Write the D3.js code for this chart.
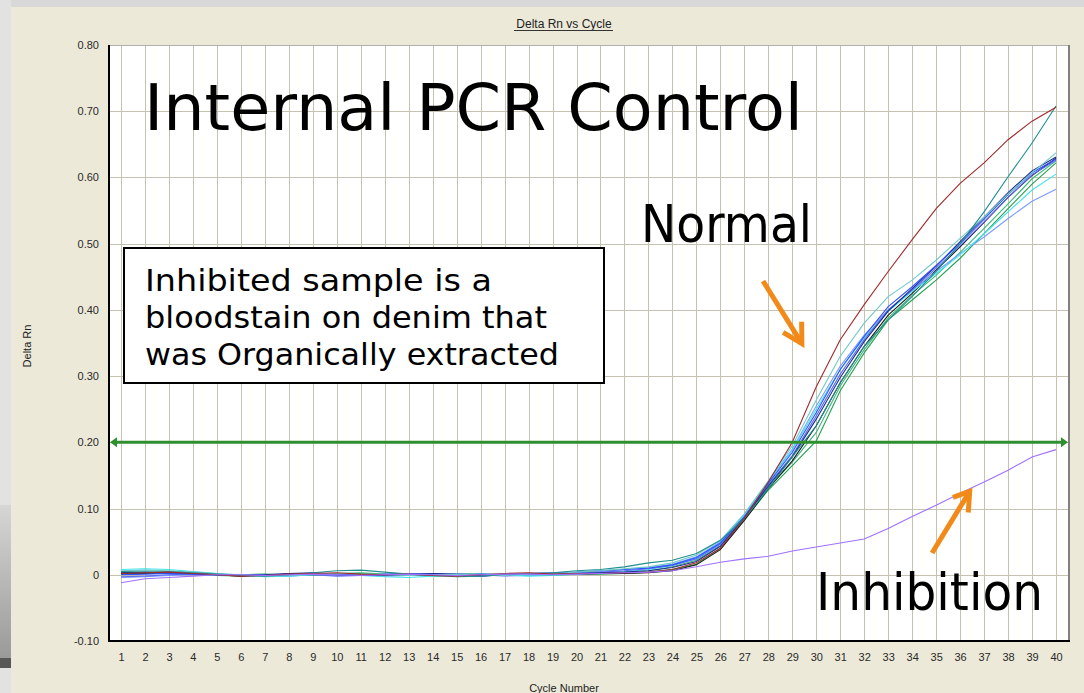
<!DOCTYPE html>
<html><head><meta charset="utf-8">
<script src="https://cdn.jsdelivr.net/npm/d3@7"></script>
<style>html,body{margin:0;padding:0;overflow:hidden;background:#ece9d8}</style>
</head><body>
<svg id="c" width="1084" height="693"></svg>
<script>
// ---------- DATA ----------
const cycles = d3.range(1, 41);
const yTickValues = [-0.1, 0, 0.1, 0.2, 0.3, 0.4, 0.5, 0.6, 0.7, 0.8];
const yTickLabels = ["-0.10", "0", "0.10", "0.20", "0.30", "0.40", "0.50", "0.60", "0.70", "0.80"];
const threshold = 0.2;

const redCurve = [0.002,0.003,0.004,0.002,0.000,-0.002,-0.001,0.001,0.002,0.003,0.001,0.000,0.001,-0.001,-0.002,0.000,0.002,0.003,0.001,0.002,0.002,
  0.003,0.004,0.008,0.018,0.040,0.085,0.140,0.200,0.284,0.355,0.408,0.458,0.506,0.553,0.591,0.622,0.657,0.685,0.706];
const darkTealCurve = [0.005,0.004,0.005,0.003,0.001,-0.001,-0.002,0.000,0.003,0.006,0.007,0.004,0.001,-0.001,-0.003,-0.002,0.001,0.002,0.003,0.006,0.008,
  0.012,0.018,0.022,0.032,0.052,0.085,0.130,0.178,0.225,0.290,0.345,0.385,0.420,0.458,0.500,0.548,0.601,0.652,0.708];
const lightTealCurve = [0.006,0.007,0.006,0.004,0.002,0.000,-0.002,-0.001,0.001,0.002,0.001,0.000,-0.001,0.000,0.001,0.000,-0.001,0.001,0.002,0.004,0.006,
  0.009,0.012,0.018,0.030,0.052,0.092,0.142,0.195,0.264,0.330,0.380,0.420,0.445,0.475,0.508,0.540,0.575,0.607,0.637];
const cyanCurve = [0.008,0.009,0.008,0.005,0.002,-0.001,-0.003,-0.002,0.000,0.001,-0.001,-0.003,-0.004,-0.002,0.000,0.001,0.000,-0.002,-0.001,0.001,0.003,
  0.005,0.008,0.014,0.025,0.048,0.090,0.140,0.188,0.250,0.310,0.358,0.398,0.428,0.455,0.483,0.515,0.548,0.581,0.605];
const blueCurve = [0.000,0.001,0.002,0.001,0.000,0.000,-0.001,0.000,0.001,0.000,-0.001,0.001,0.002,0.000,-0.001,0.001,0.000,0.002,0.003,0.004,0.006,
  0.008,0.010,0.015,0.026,0.048,0.088,0.138,0.185,0.245,0.310,0.360,0.405,0.435,0.467,0.500,0.537,0.574,0.607,0.628];
const medBlueCurve = [-0.003,-0.002,0.000,0.001,0.000,-0.001,0.000,0.001,0.000,-0.002,-0.001,0.000,0.001,0.002,0.000,-0.002,0.000,0.001,0.002,0.003,0.004,
  0.006,0.009,0.014,0.024,0.046,0.087,0.136,0.180,0.240,0.303,0.355,0.400,0.430,0.463,0.497,0.533,0.570,0.604,0.626];
const navyCurve = [0.003,0.004,0.003,0.002,0.000,-0.001,0.000,0.002,0.003,0.001,0.000,-0.001,0.000,0.002,0.001,-0.001,0.000,0.002,0.001,0.002,0.003,
  0.004,0.006,0.011,0.020,0.043,0.086,0.134,0.178,0.235,0.298,0.352,0.398,0.432,0.466,0.503,0.540,0.577,0.610,0.631];
const blackCurve = [0.001,0.002,0.003,0.002,0.000,-0.002,-0.001,0.001,0.002,0.000,-0.001,0.000,0.002,0.001,-0.001,-0.002,0.000,0.001,0.000,0.001,0.002,
  0.002,0.003,0.006,0.015,0.038,0.082,0.130,0.172,0.225,0.290,0.345,0.392,0.425,0.460,0.495,0.532,0.570,0.603,0.629];
const seaGreenCurve = [0.004,0.003,0.002,0.001,-0.001,-0.002,0.000,0.001,0.000,0.002,0.003,0.001,0.000,-0.002,-0.001,0.000,0.001,0.000,-0.001,0.001,0.002,
  0.004,0.006,0.012,0.022,0.044,0.086,0.132,0.170,0.215,0.285,0.340,0.388,0.422,0.452,0.487,0.523,0.560,0.598,0.625];
const greenCurve = [0.002,0.003,0.002,0.000,-0.001,0.000,0.001,0.000,-0.001,0.001,0.002,0.000,-0.001,0.000,0.002,0.001,0.000,-0.001,0.000,0.001,0.001,
  0.002,0.004,0.008,0.016,0.040,0.083,0.128,0.165,0.202,0.278,0.335,0.385,0.415,0.445,0.478,0.515,0.553,0.590,0.622];
const lightBlueCurve = [-0.004,-0.003,-0.001,0.000,0.001,0.000,-0.001,-0.002,0.000,0.001,0.000,-0.002,-0.001,0.001,0.002,0.000,-0.002,-0.001,0.001,0.003,0.005,
  0.008,0.011,0.016,0.027,0.050,0.091,0.141,0.190,0.255,0.315,0.362,0.400,0.430,0.458,0.485,0.510,0.538,0.564,0.582];
const inhibitedCurve = [-0.012,-0.006,-0.004,-0.002,0.000,0.000,-0.001,0.000,0.001,0.000,-0.001,0.000,0.001,0.000,-0.001,0.000,0.001,0.001,0.000,0.001,0.002,
  0.003,0.004,0.006,0.012,0.019,0.024,0.028,0.036,0.042,0.048,0.054,0.070,0.088,0.105,0.123,0.140,0.158,0.178,0.189];

const seriesNames = ["green","seaGreen","black","lightBlue","cyan","medBlue","navy","blue","lightTeal","darkTeal","red","inhibited"];
const seriesValues = [greenCurve, seaGreenCurve, blackCurve, lightBlueCurve, cyanCurve, medBlueCurve, navyCurve, blueCurve, lightTealCurve, darkTealCurve, redCurve, inhibitedCurve];
const seriesColors = ["#22a050","#3cb878","#1a1a1a","#7c9cff","#40e4ec","#5b6ef5","#1c2c8c","#3050ff","#70c8c8","#1f8f8f","#a02a2a","#a070ff"];

// ---------- CHART ----------
const svg = d3.select("#c");
const W = 1084, H = 693;
const L = 109, T = 45, R = 1068, B = 641;

// window chrome / background
svg.append("rect").attr("x",0).attr("y",0).attr("width",W).attr("height",H).attr("fill","#ece9d8");
svg.append("rect").attr("x",0).attr("y",0).attr("width",W).attr("height",7).attr("fill","#d8d8d8");
svg.append("rect").attr("x",0).attr("y",0).attr("width",11).attr("height",H).attr("fill","#e2e2e2");
const defs = svg.append("defs");
const lg = defs.append("linearGradient").attr("id","sideg").attr("x1",0).attr("y1",0).attr("x2",0).attr("y2",1);
lg.append("stop").attr("offset","0%").attr("stop-color","#d6d6d6");
lg.append("stop").attr("offset","100%").attr("stop-color","#9a9a9a");
svg.append("rect").attr("x",0).attr("y",505).attr("width",11).attr("height",153).attr("fill","url(#sideg)");
svg.append("rect").attr("x",0).attr("y",658).attr("width",11).attr("height",10).attr("fill","#575757");

const x = d3.scaleLinear().domain([0.5, 40.5]).range([L, R]);
const y = d3.scaleLinear().domain([-0.1, 0.8]).range([B, T]);

svg.append("rect").attr("x",L).attr("y",T).attr("width",R-L).attr("height",B-T).attr("fill","#ffffff");

// grid
svg.append("g").selectAll("line").data(cycles).join("line")
  .attr("x1", d => Math.round(x(d))+0.5).attr("x2", d => Math.round(x(d))+0.5)
  .attr("y1", T).attr("y2", B).attr("stroke","#c6c2b2").attr("stroke-width",1);
svg.append("g").selectAll("line").data(yTickValues).join("line")
  .attr("x1", L).attr("x2", R)
  .attr("y1", d => Math.round(y(d))+0.5).attr("y2", d => Math.round(y(d))+0.5)
  .attr("stroke","#c6c2b2").attr("stroke-width",1);

// borders
svg.append("line").attr("x1",L).attr("x2",R).attr("y1",T+0.5).attr("y2",T+0.5).attr("stroke","#b0b0b0");
svg.append("line").attr("x1",R+1).attr("x2",R+1).attr("y1",T).attr("y2",B).attr("stroke","#808080").attr("stroke-width",2);

// axes
const yAxis = d3.axisLeft(y).tickValues(yTickValues).tickSize(0).tickPadding(10)
  .tickFormat((d,i) => yTickLabels[i]);
const gy = svg.append("g").attr("transform",`translate(${L},0)`).call(yAxis);
gy.select(".domain").remove();
gy.selectAll("text").attr("font-family","Liberation Sans, Arial, sans-serif").attr("font-size",11).attr("fill","#2a2a2a");

const xAxis = d3.axisBottom(x).tickValues(cycles).tickSize(0).tickPadding(12).tickFormat(d3.format("d"));
const gx = svg.append("g").attr("transform",`translate(0,${B})`).call(xAxis);
gx.select(".domain").remove();
gx.selectAll("text").attr("font-family","Liberation Sans, Arial, sans-serif").attr("font-size",11).attr("fill","#2a2a2a");

svg.append("line").attr("x1",L).attr("x2",L).attr("y1",T).attr("y2",B+1).attr("stroke","#000").attr("stroke-width",2);
svg.append("line").attr("x1",L-1).attr("x2",R+2).attr("y1",B).attr("y2",B).attr("stroke","#000").attr("stroke-width",2);

// title & axis labels
const title = svg.append("text").attr("x",564).attr("y",28).attr("text-anchor","middle")
  .attr("font-family","Liberation Sans, Arial, sans-serif").attr("font-size",12).attr("fill","#222")
  .text("Delta Rn vs Cycle");
svg.append("line").attr("x1",514).attr("x2",613).attr("y1",30.5).attr("y2",30.5).attr("stroke","#333").attr("stroke-width",1);
svg.append("text").attr("x",564).attr("y",692).attr("text-anchor","middle")
  .attr("font-family","Liberation Sans, Arial, sans-serif").attr("font-size",11).attr("fill","#222")
  .text("Cycle Number");
svg.append("text").attr("transform","translate(31,346) rotate(-90)").attr("text-anchor","middle")
  .attr("font-family","Liberation Sans, Arial, sans-serif").attr("font-size",11).attr("fill","#222")
  .text("Delta Rn");

// curves
const line = d3.line().x((d,i) => x(cycles[i])).y(d => y(d));
const gc = svg.append("g");
seriesValues.forEach((vals, k) => {
  gc.append("path").datum(vals).attr("d", line).attr("fill","none")
    .attr("stroke", seriesColors[k]).attr("stroke-width",1.1).attr("data-name", seriesNames[k]);
});

// threshold line
const ty = y(threshold);
svg.append("line").attr("x1",L+4).attr("x2",R-4).attr("y1",ty).attr("y2",ty).attr("stroke","#2f8f2f").attr("stroke-width",3);
svg.append("path").attr("d",`M${L+1},${ty} L${L+8},${ty-5} L${L+8},${ty+5} Z`).attr("fill","#2f8f2f");
svg.append("path").attr("d",`M${R},${ty} L${R-7},${ty-5} L${R-7},${ty+5} Z`).attr("fill","#2f8f2f");

// annotation box
svg.append("rect").attr("x",124).attr("y",248).attr("width",480).attr("height",135)
  .attr("fill","#fff").attr("stroke","#000").attr("stroke-width",2);
const boxLines = ["Inhibited sample is a", "bloodstain on denim that", "was Organically extracted"];
const boxWidths = [347, 402, 414];
boxLines.forEach((t,i) => {
  svg.append("text").attr("x",145).attr("y",291 + i*37)
    .attr("font-family","DejaVu Sans, Verdana, sans-serif").attr("font-size",31).attr("fill","#000")
    .attr("textLength", boxWidths[i]).attr("lengthAdjust","spacingAndGlyphs").text(t);
});

// big labels
function big(t, x0, yb, size, w) {
  svg.append("text").attr("x",x0).attr("y",yb)
    .attr("font-family","DejaVu Sans, Verdana, sans-serif").attr("font-size",size).attr("fill","#000")
    .attr("textLength", w).attr("lengthAdjust","spacingAndGlyphs").text(t);
}
big("Internal PCR Control", 144, 130, 64, 659);
big("Normal", 641, 242, 51, 171);
big("Inhibition", 816, 610, 51, 227);

// orange arrows (in data coordinates)
const orange = "#f28a1a";
function arrow(p0, tip, a1, a2) {
  const g = svg.append("g").attr("stroke",orange).attr("stroke-width",5).attr("fill","none").attr("stroke-linecap","butt");
  g.append("line").attr("x1",x(p0[0])).attr("y1",y(p0[1])).attr("x2",x(tip[0])).attr("y2",y(tip[1]));
  g.append("polyline").attr("points",[a1,tip,a2].map(p => [x(p[0]),y(p[1])].join(",")).join(" "))
    .attr("stroke-linejoin","miter");
}
arrow([27.78,0.4436],[29.40,0.349],[28.62,0.366],[29.39,0.382]);
arrow([34.83,0.0329],[36.40,0.126],[35.70,0.117],[36.34,0.094]);
</script>
</body></html>
